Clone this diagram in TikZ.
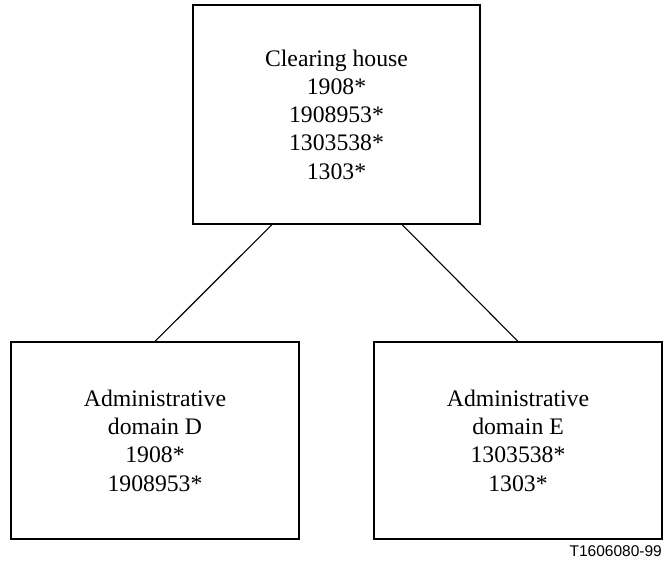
\documentclass[tikz,border=0pt]{standalone}
\usepackage{fontspec}
\setmainfont{Liberation Serif}
\newfontfamily\labelfont{Liberation Sans}
\begin{document}
\begin{tikzpicture}[x=1bp,y=-1bp,
  boxnode/.style={draw, line width=1.1bp, rectangle, align=center, inner sep=0pt,
    font=\fontsize{23.7bp}{28.3bp}\selectfont},
  link/.style={line width=1.1bp}]
\useasboundingbox (0,0) rectangle (664,562);
\node[boxnode, minimum width=287bp, minimum height=219bp] (ch) at (336.5,114.5)
  {Clearing house\\1908*\\1908953*\\1303538*\\1303*};
\node[boxnode, minimum width=288bp, minimum height=197bp] (dd) at (155,440.5)
  {Administrative\\domain D\\1908*\\1908953*};
\node[boxnode, minimum width=288bp, minimum height=197bp] (de) at (518,440.5)
  {Administrative\\domain E\\1303538*\\1303*};
\coordinate (chl) at ([xshift=-64.5bp]ch.south);
\coordinate (chr) at ([xshift=65.5bp]ch.south);
\draw[link] (chl) -- (dd.north);
\draw[link] (chr) -- (de.north);
\node[anchor=base east, inner sep=0pt, font=\labelfont\fontsize{15.5bp}{18bp}\selectfont] (tag) at (662,556.5) {T1606080-99};
\end{tikzpicture}
\end{document}
